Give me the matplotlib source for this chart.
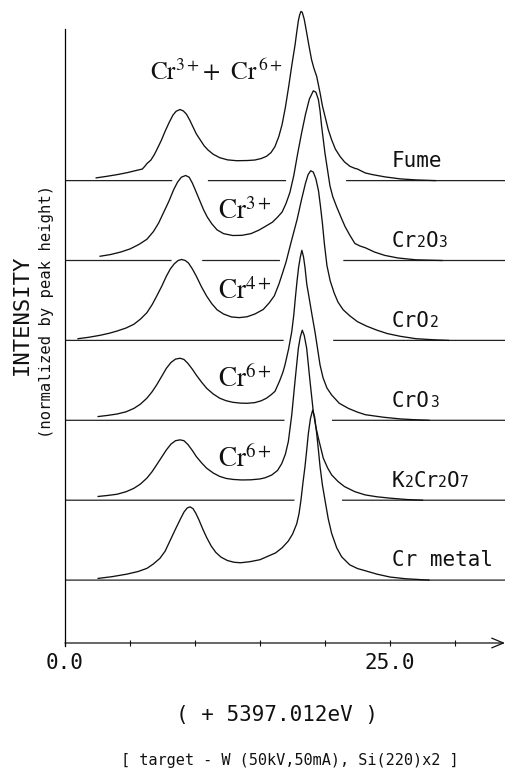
import numpy as np
import matplotlib
matplotlib.use("Agg")
import matplotlib.pyplot as plt

plt.rcParams['font.family'] = ['DejaVu Sans Mono']
plt.rcParams['mathtext.fontset'] = 'stix'

# ---------------- data (energy offset in eV, intensity normalised to peak) -------------
fume_x = [2.4, 3.2, 4.0, 4.8, 5.5, 5.95, 6.15, 6.3, 6.6, 6.85, 7.05, 7.4, 7.7, 8.0, 8.3, 8.55,
          8.85, 9.1, 9.35, 9.6, 9.85, 10.1, 10.4, 10.7, 11.0, 11.4, 11.9, 12.5, 13.2, 14.0,
          14.6, 15.1, 15.5, 15.85, 16.15, 16.45, 16.7, 16.95, 17.2, 17.45, 17.7, 17.82, 17.95,
          18.05, 18.15, 18.25, 18.4, 18.59, 18.75, 18.97, 19.15, 19.36, 19.62, 19.8, 20.0,
          20.25, 20.51, 20.8, 21.15, 21.5, 21.92, 22.3, 22.5, 22.7, 23.1, 23.6, 24.6, 25.8,
          27.0, 28.5]
fume_y = [0.016, 0.025, 0.035, 0.047, 0.06, 0.068, 0.085, 0.1, 0.12, 0.15, 0.18, 0.235, 0.29,
          0.34, 0.385, 0.408, 0.418, 0.41, 0.39, 0.355, 0.315, 0.275, 0.24, 0.205, 0.18, 0.155,
          0.135, 0.122, 0.117, 0.118, 0.121, 0.13, 0.143, 0.165, 0.2, 0.26, 0.33, 0.43, 0.55,
          0.68, 0.8, 0.87, 0.94, 0.975, 0.995, 0.99, 0.95, 0.87, 0.8, 0.71, 0.66, 0.613, 0.516,
          0.44, 0.378, 0.3, 0.24, 0.185, 0.143, 0.11, 0.084, 0.072, 0.068, 0.06, 0.045, 0.036,
          0.022, 0.01, 0.004, 0.0]

cr2o3_x = [2.7, 3.5, 4.3, 5.0, 5.7, 6.3, 6.8, 7.2, 7.6, 8.0, 8.35, 8.65, 8.95, 9.28, 9.55, 9.8,
           10.05, 10.35, 10.65, 10.95, 11.3, 11.7, 12.2, 12.9, 13.6, 14.3, 14.9, 15.4, 15.95,
           16.35, 16.7, 17.0, 17.3, 17.6, 17.9, 18.2, 18.5, 18.8, 19.1, 19.3, 19.49, 19.62,
           19.74, 19.87, 20.0, 20.2, 20.38, 20.6, 20.9, 21.2, 21.54, 21.9, 22.3, 22.7, 23.1,
           23.8, 24.6, 25.6, 27.0, 29.0]
cr2o3_y = [0.025, 0.035, 0.05, 0.068, 0.095, 0.125, 0.17, 0.22, 0.285, 0.35, 0.415, 0.46, 0.49,
           0.5, 0.49, 0.455, 0.41, 0.355, 0.3, 0.255, 0.215, 0.18, 0.158, 0.147, 0.148, 0.158,
           0.178, 0.2, 0.225, 0.255, 0.285, 0.335, 0.4, 0.5, 0.63, 0.75, 0.86, 0.95, 0.998,
           0.99, 0.947, 0.88, 0.79, 0.71, 0.63, 0.53, 0.44, 0.375, 0.315, 0.26, 0.2, 0.15, 0.1,
           0.085, 0.075, 0.05, 0.03, 0.015, 0.004, 0.0]

cro2_x = [1.0, 1.8, 2.7, 3.4, 4.0, 4.7, 5.3, 5.8, 6.3, 6.7, 7.05, 7.45, 7.8, 8.1, 8.4, 8.7, 8.97,
          9.25, 9.5, 9.8, 10.1, 10.5, 10.9, 11.3, 11.7, 12.2, 12.8, 13.4, 14.0, 14.6, 15.25, 15.7,
          16.1, 16.45, 16.75, 17.0, 17.4, 17.85, 18.2, 18.5, 18.7, 18.9, 19.1, 19.3, 19.5, 19.65,
          19.8, 19.95, 20.15, 20.4, 20.7, 21.0, 21.4, 21.9, 22.5, 23.2, 24.0, 24.8, 25.8, 27.0,
          28.5, 29.5]
cro2_y = [0.01, 0.018, 0.03, 0.042, 0.055, 0.073, 0.095, 0.125, 0.163, 0.21, 0.26, 0.32, 0.378,
          0.42, 0.45, 0.47, 0.476, 0.47, 0.455, 0.42, 0.378, 0.315, 0.26, 0.215, 0.18, 0.155,
          0.138, 0.134, 0.139, 0.155, 0.182, 0.22, 0.262, 0.33, 0.4, 0.46, 0.58, 0.71, 0.83,
          0.925, 0.975, 0.998, 0.99, 0.95, 0.88, 0.79, 0.69, 0.57, 0.44, 0.35, 0.28, 0.225,
          0.18, 0.145, 0.11, 0.084, 0.06, 0.04, 0.024, 0.01, 0.003, 0.0]

cro3_x = [2.55, 3.3, 4.0, 4.7, 5.3, 5.8, 6.3, 6.7, 7.05, 7.45, 7.8, 8.15, 8.5, 8.85, 9.15, 9.45,
          9.8, 10.1, 10.5, 10.9, 11.4, 11.9, 12.4, 12.9, 13.5, 14.0, 14.6, 15.1, 15.5, 15.85,
          16.15, 16.5, 16.75, 16.92, 17.2, 17.44, 17.6, 17.72, 17.85, 17.97, 18.1, 18.22, 18.35,
          18.46, 18.6, 18.78, 19.0, 19.23, 19.45, 19.62, 19.85, 20.15, 20.51, 21.1, 21.8, 22.5,
          23.1, 24.5, 25.8, 27.0, 28.0]
cro3_y = [0.022, 0.029, 0.037, 0.05, 0.07, 0.095, 0.13, 0.168, 0.208, 0.26, 0.306, 0.34, 0.36,
          0.365, 0.358, 0.335, 0.3, 0.266, 0.225, 0.188, 0.155, 0.13, 0.115, 0.106, 0.101, 0.1,
          0.104, 0.115, 0.13, 0.15, 0.17, 0.23, 0.28, 0.325, 0.42, 0.52, 0.62, 0.72, 0.82, 0.9,
          0.96, 1.0, 0.96, 0.9, 0.8, 0.72, 0.62, 0.52, 0.41, 0.325, 0.25, 0.19, 0.149, 0.1,
          0.07, 0.048, 0.033, 0.018, 0.008, 0.003, 0.0]

k2cr2o7_x = [2.55, 3.3, 4.0, 4.7, 5.3, 5.8, 6.3, 6.7, 7.05, 7.45, 7.8, 8.15, 8.5, 8.85, 9.15,
             9.45, 9.8, 10.1, 10.5, 10.9, 11.4, 11.9, 12.4, 12.95, 13.6, 14.3, 15.0, 15.4, 15.9,
             16.35, 16.67, 16.95, 17.18, 17.44, 17.69, 17.95, 18.1, 18.25, 18.4, 18.59, 18.85,
             19.1, 19.3, 19.49, 19.87, 20.2, 20.51, 21.0, 21.5, 22.3, 23.1, 24.0, 25.0, 26.3,
             27.5]
k2cr2o7_y = [0.022, 0.028, 0.035, 0.05, 0.07, 0.095, 0.13, 0.168, 0.208, 0.255, 0.296, 0.33,
             0.35, 0.355, 0.35, 0.328, 0.292, 0.257, 0.22, 0.188, 0.16, 0.14, 0.128, 0.122,
             0.119, 0.12, 0.125, 0.132, 0.148, 0.175, 0.215, 0.27, 0.345, 0.5, 0.698, 0.894,
             0.96, 1.0, 0.97, 0.894, 0.698, 0.52, 0.43, 0.365, 0.247, 0.19, 0.149, 0.11, 0.08,
             0.05, 0.031, 0.02, 0.012, 0.004, 0.0]

crmetal_x = [2.55, 3.6, 4.75, 5.6, 6.3, 6.8, 7.3, 7.7, 8.1, 8.5, 8.85, 9.15, 9.4, 9.62, 9.85,
             10.05, 10.3, 10.6, 10.9, 11.25, 11.6, 12.0, 12.5, 13.0, 13.5, 14.2, 15.0, 15.6, 16.2,
             16.7, 17.18, 17.5, 17.82, 18.0, 18.15, 18.3, 18.46, 18.6, 18.72, 18.88, 19.05, 19.2,
             19.36, 19.5, 19.62, 19.8, 20.0, 20.25, 20.51, 20.9, 21.28, 21.9, 22.5, 23.1, 24.0,
             25.0, 26.2, 28.0]
crmetal_y = [0.01, 0.02, 0.035, 0.05, 0.069, 0.095, 0.128, 0.17, 0.235, 0.3, 0.355, 0.4, 0.424,
             0.431, 0.42, 0.395, 0.355, 0.3, 0.25, 0.2, 0.163, 0.135, 0.115, 0.105, 0.102, 0.108,
             0.12, 0.14, 0.16, 0.19, 0.23, 0.27, 0.33, 0.39, 0.47, 0.57, 0.667, 0.77, 0.863,
             0.95, 1.0, 0.96, 0.863, 0.76, 0.667, 0.56, 0.47, 0.36, 0.275, 0.19, 0.137, 0.09,
             0.068, 0.055, 0.035, 0.018, 0.008, 0.0]

# sample labels: list of (text piece, is_small_digit)
sample_labels = [
    [("Fume", False)],
    [("Cr", False), ("2", True), ("O", False), ("3", True)],
    [("CrO", False), ("2", True)],
    [("CrO", False), ("3", True)],
    [("K", False), ("2", True), ("Cr", False), ("2", True), ("O", False), ("7", True)],
    [("Cr metal", False)],
]
ion_labels = [r"$\mathrm{Cr}^{3+}$+ $\;\mathrm{Cr}^{\,6+}$", r"$\mathrm{Cr}^{3+}$",
              r"$\mathrm{Cr}^{4+}$", r"$\mathrm{Cr}^{6+}$", r"$\mathrm{Cr}^{6+}$", None]
xtick_values = [0, 5, 10, 15, 20, 25, 30]
xtick_labels = ["0.0", "", "", "", "", "25.0", ""]

spectra_x = [fume_x, cr2o3_x, cro2_x, cro3_x, k2cr2o7_x, crmetal_x]
spectra_y = [fume_y, cr2o3_y, cro2_y, cro3_y, k2cr2o7_y, crmetal_y]

# ---------------- layout -------------
W, H = 505, 770
fig = plt.figure(figsize=(W / 100, H / 100), dpi=100)
ax = fig.add_axes([65 / W, 127 / H, 440 / W, 643 / H])
XMAX = 440 / 13.0
YMAX = 643 / 170.0
ax.set_xlim(0, XMAX)
ax.set_ylim(0, YMAX)

n = len(spectra_x)
step = 0.47
offsets = [0.37 + step * (n - 1 - i) for i in range(n)]

lc = "#111111"
xs = np.linspace(0, XMAX, 3000)
dx = xs[1] - xs[0]
mL, mR = 0.5, 1.3
for j in range(n):
    level = offsets[j]
    hidden = np.zeros_like(xs, dtype=bool)
    for k in range(j + 1, n):
        h = np.interp(xs, spectra_x[k], spectra_y[k], left=0, right=0) + offsets[k]
        hidden |= h > level
    dil = hidden.copy()
    for i in np.where(hidden)[0]:
        lo = max(0, i - int(mL / dx))
        hi = min(len(xs), i + int(mR / dx) + 1)
        dil[lo:hi] = True
    base = np.ma.masked_where(dil, np.full_like(xs, level))
    ax.plot(xs, base, color="#222222", lw=0.9, zorder=1, solid_capstyle="butt")

for j in range(n):
    ax.plot(spectra_x[j], np.array(spectra_y[j]) + offsets[j], color=lc, lw=0.95, zorder=3,
            solid_joinstyle="round")

# sample labels with small digits
big, small = 15, 10.5
for j, parts in enumerate(sample_labels):
    xoff = 0.0
    for txt, is_small in parts:
        fs = small if is_small else big
        ax.annotate(txt, xy=(25.15, offsets[j] + 0.08), xytext=(xoff, 0),
                    textcoords="offset points", fontsize=fs, ha="left", va="baseline",
                    color=lc, annotation_clip=False)
        xoff += 0.602 * fs * len(txt)

# oxidation-state labels
for j, lab in enumerate(ion_labels):
    if lab is None:
        continue
    if j == 0:
        ax.text(6.54, offsets[j] + 0.59, lab, fontsize=18, ha="left", va="baseline",
                color=lc, family="STIXGeneral")
    else:
        dy = 0.245 if j < 3 else 0.195
        ax.text(11.8, offsets[j] + dy, lab, fontsize=19.5, ha="left", va="baseline",
                color=lc, family="STIXGeneral")

# axes
for s in ["top", "right", "bottom"]:
    ax.spines[s].set_visible(False)
ax.spines["left"].set_bounds(-0.02, 3.612)
ax.spines["left"].set_linewidth(0.9)
ax.set_yticks([])
ax.set_xticks(xtick_values)
ax.set_xticklabels(xtick_labels)
ax.tick_params(axis="x", direction="inout", length=4, width=0.8, pad=5, labelsize=15,
               colors=lc)
ax.annotate("", xy=(XMAX, 0), xytext=(0, 0),
            arrowprops=dict(arrowstyle="->,head_length=0.6,head_width=0.25", lw=0.9,
                            color=lc, shrinkA=0, shrinkB=0, mutation_scale=14),
            annotation_clip=False)

fig.text(277.5 / W, 1 - 715 / H, "( + 5397.012eV )", fontsize=15, ha="center", va="center",
         color=lc)
fig.text(290 / W, 1 - 760 / H, "[ target - W (50kV,50mA), Si(220)x2 ]", fontsize=11,
         ha="center", va="center", color=lc)
fig.text(21.5 / W, 1 - 315 / H, "INTENSITY", fontsize=16, rotation=90, ha="center",
         va="center", color=lc)
fig.text(47 / W, 1 - 311 / H, "(normalized by peak height)", fontsize=11.2, rotation=90,
         ha="center", va="center", color=lc)

fig.savefig("out.png", dpi=100)
